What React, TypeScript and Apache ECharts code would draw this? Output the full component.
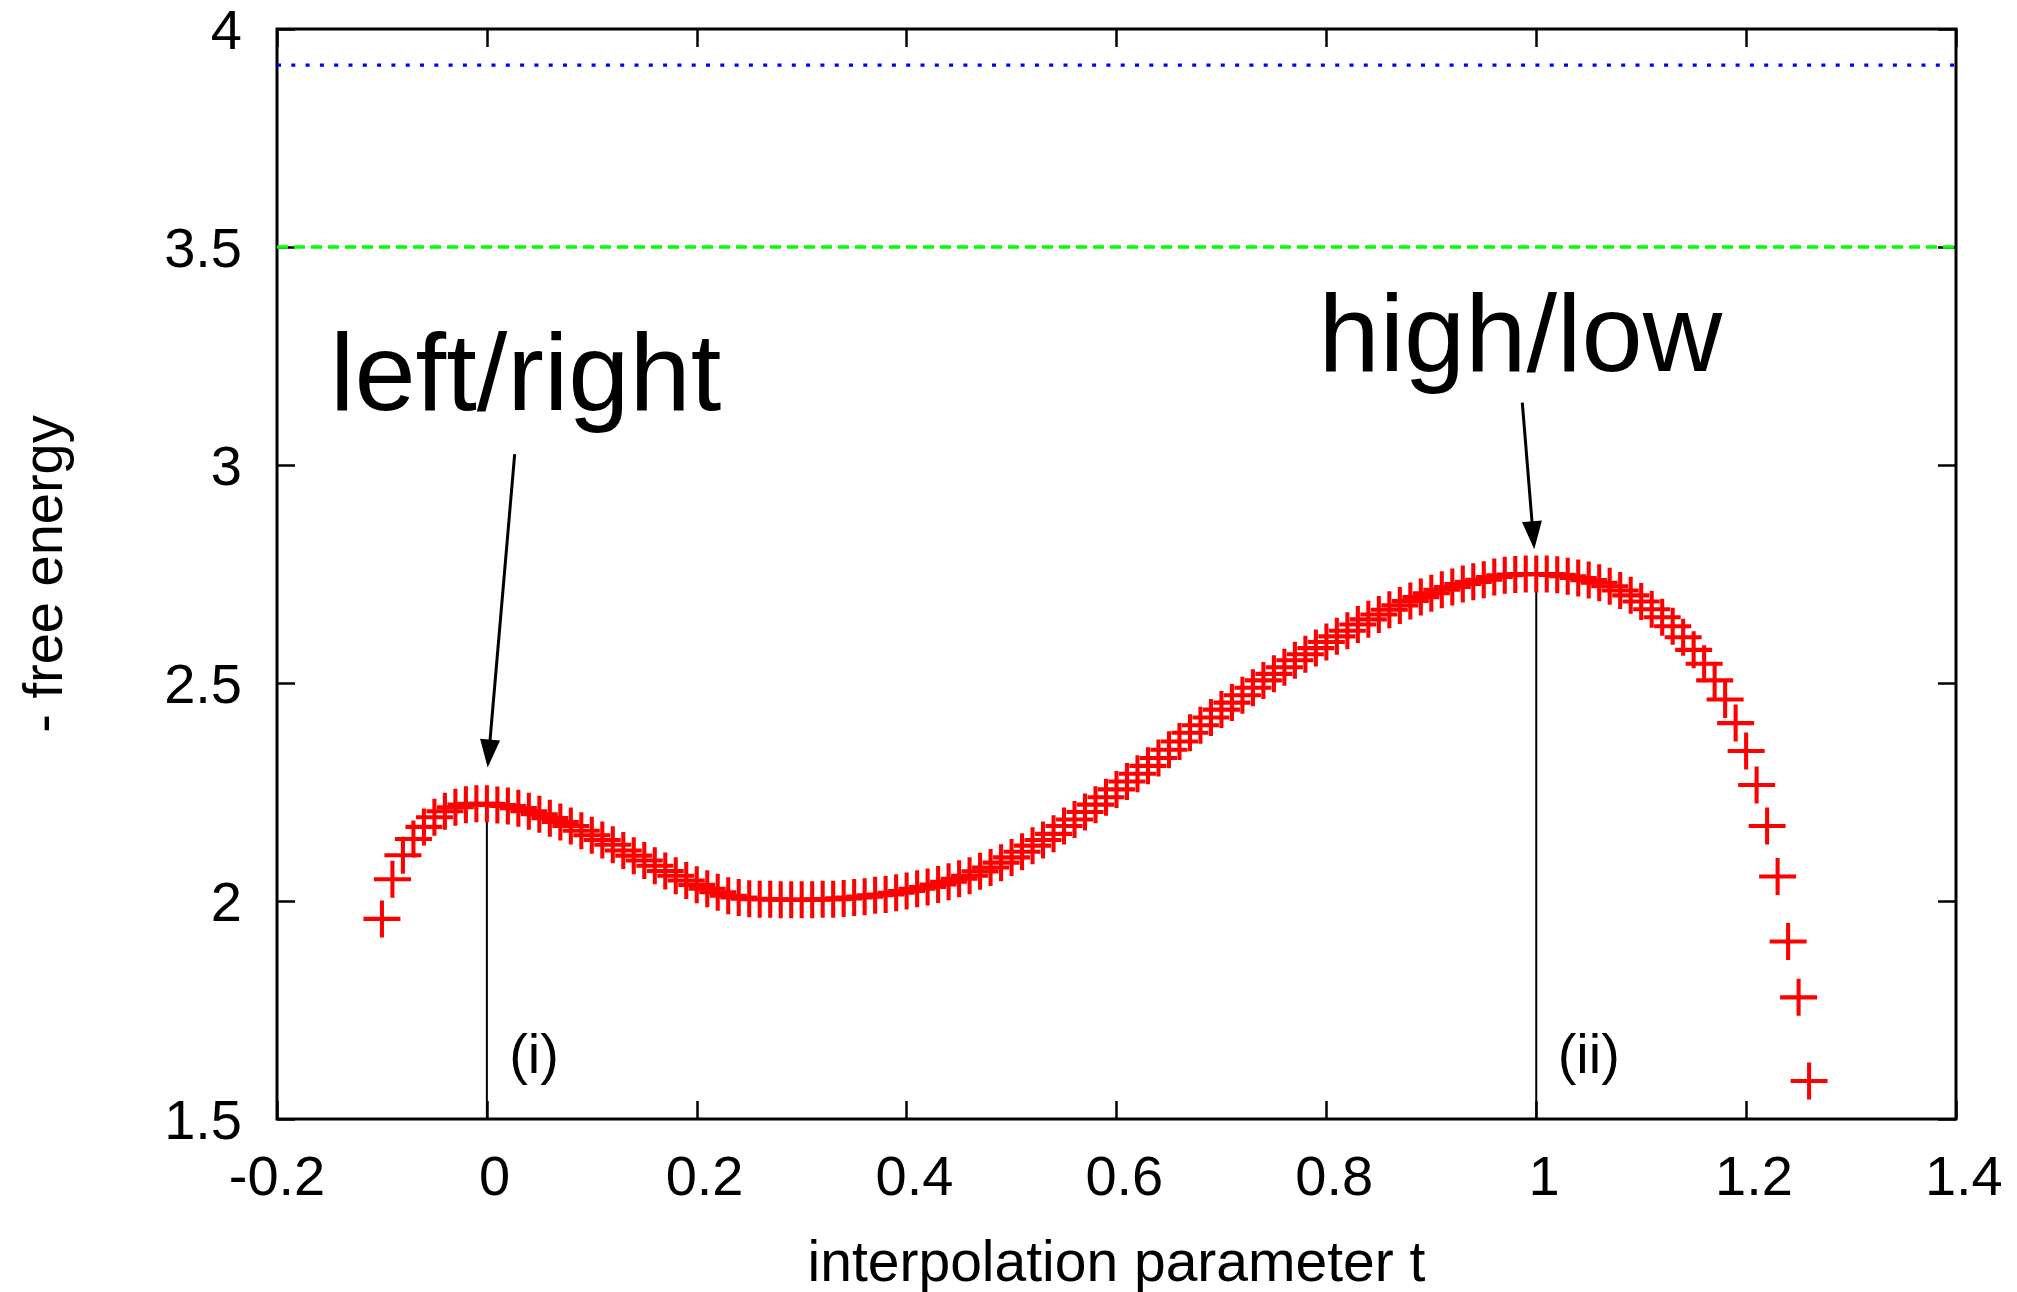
import React, { useEffect, useRef } from "react";
import * as echarts from "echarts";

// interpolation parameter t for every red "+" point
const tValues = [
  -0.1, -0.09, -0.08, -0.07, -0.06, -0.05, -0.04, -0.03, -0.02, -0.01,
  0, 0.01, 0.02, 0.03, 0.04, 0.05, 0.06, 0.07, 0.08, 0.09,
  0.1, 0.11, 0.12, 0.13, 0.14, 0.15, 0.16, 0.17, 0.18, 0.19,
  0.2, 0.21, 0.22, 0.23, 0.24, 0.25, 0.26, 0.27, 0.28, 0.29,
  0.3, 0.31, 0.32, 0.33, 0.34, 0.35, 0.36, 0.37, 0.38, 0.39,
  0.4, 0.41, 0.42, 0.43, 0.44, 0.45, 0.46, 0.47, 0.48, 0.49,
  0.5, 0.51, 0.52, 0.53, 0.54, 0.55, 0.56, 0.57, 0.58, 0.59,
  0.6, 0.61, 0.62, 0.63, 0.64, 0.65, 0.66, 0.67, 0.68, 0.69,
  0.7, 0.71, 0.72, 0.73, 0.74, 0.75, 0.76, 0.77, 0.78, 0.79,
  0.8, 0.81, 0.82, 0.83, 0.84, 0.85, 0.86, 0.87, 0.88, 0.89,
  0.9, 0.91, 0.92, 0.93, 0.94, 0.95, 0.96, 0.97, 0.98, 0.99,
  1.0, 1.01, 1.02, 1.03, 1.04, 1.05, 1.06, 1.07, 1.08, 1.09,
  1.1, 1.11, 1.12, 1.13, 1.14, 1.15, 1.16, 1.17, 1.18, 1.19,
  1.2, 1.21, 1.22, 1.23, 1.24, 1.25, 1.26,
];

// "- free energy" for each t above
const energyValues = [
  1.959, 2.05, 2.105, 2.142, 2.17, 2.192, 2.206, 2.215, 2.221, 2.223,
  2.223, 2.22, 2.218, 2.213, 2.206, 2.199, 2.19, 2.181, 2.172, 2.161,
  2.151, 2.14, 2.129, 2.116, 2.104, 2.093, 2.081, 2.069, 2.058, 2.047,
  2.037, 2.028, 2.02, 2.012, 2.008, 2.005, 2.004, 2.004, 2.003, 2.003,
  2.003, 2.003, 2.004, 2.004, 2.006, 2.008, 2.01, 2.013, 2.015, 2.019,
  2.023, 2.028, 2.032, 2.038, 2.044, 2.051, 2.058, 2.068, 2.077, 2.088,
  2.1, 2.113, 2.127, 2.14, 2.154, 2.172, 2.187, 2.204, 2.221, 2.238,
  2.256, 2.274, 2.292, 2.31, 2.328, 2.347, 2.366, 2.386, 2.403, 2.421,
  2.439, 2.455, 2.472, 2.489, 2.506, 2.521, 2.536, 2.552, 2.566, 2.58,
  2.594, 2.607, 2.62, 2.634, 2.646, 2.657, 2.668, 2.678, 2.688, 2.697,
  2.706, 2.714, 2.72, 2.727, 2.732, 2.737, 2.743, 2.747, 2.749, 2.75,
  2.75, 2.75, 2.748, 2.745, 2.741, 2.736, 2.73, 2.722, 2.712, 2.701,
  2.687, 2.669, 2.651, 2.63, 2.605, 2.576, 2.544, 2.506, 2.462, 2.408,
  2.344, 2.266, 2.172, 2.056, 1.907, 1.779, 1.587,
];

// axis ranges
const xRange = [-0.2, 1.4];
const xStep = 0.2;
const yRange = [1.5, 4];
const yStep = 0.5;

// reference levels
const blueLevel = [3.917];
const greenLevel = [3.5];

// marked configurations (i) and (ii)
const markedT = [0, 1];
const markedLabels = ["(i)", "(ii)"];
const markedLabelPos = [
  [0.045, 1.651],
  [1.05, 1.651],
];

// arrows: [start, end] in data coordinates
const arrowLines = [
  [
    [0.0265, 3.025],
    [0.0019, 2.338],
  ],
  [
    [0.9867, 3.143],
    [0.997, 2.839],
  ],
];

// big annotations
const bigLabels = ["left/right", "high/low"];
const bigLabelPos = [
  [-0.1495, 3.214],
  [0.7925, 3.305],
];

const FONT = "'Liberation Sans', Arial, Helvetica, sans-serif";
const PLUS =
  "path://M8.9,0H11.1V8.9H20V11.1H11.1V20H8.9V11.1H0V8.9H8.9Z";

export default function App() {
  const ref = useRef<HTMLDivElement>(null);

  useEffect(() => {
    if (!ref.current) return;
    const chart = echarts.init(ref.current, null, { renderer: "svg" });

    const points = tValues.map((t, i) => [t, energyValues[i]]);
    const verticalSeries = markedT.map((t) => {
      const idx = tValues.indexOf(t);
      return {
        type: "line",
        data: [
          [t, yRange[0]],
          [t, energyValues[idx]],
        ],
        symbol: "none",
        silent: true,
        lineStyle: { color: "#000", width: 2 },
        z: 1,
      };
    });

    const tickStyle = { color: "#000", width: 2.5 };
    const baseX = {
      type: "value",
      min: xRange[0],
      max: xRange[1],
      interval: xStep,
      axisLine: { show: false, onZero: false },
      splitLine: { show: false },
      axisTick: { show: true, inside: true, length: 18, lineStyle: tickStyle },
    };
    const baseY = {
      type: "value",
      min: yRange[0],
      max: yRange[1],
      interval: yStep,
      axisLine: { show: false, onZero: false },
      splitLine: { show: false },
      axisTick: { show: true, inside: true, length: 18, lineStyle: tickStyle },
    };
    const labelStyle = {
      fontSize: 56,
      lineHeight: 56,
      fontFamily: FONT,
      color: "#000",
    };

    chart.setOption({
      animation: false,
      backgroundColor: "#fff",
      grid: {
        left: 277,
        right: 61,
        top: 29,
        bottom: 173,
        show: true,
        borderColor: "#000",
        borderWidth: 3,
        backgroundColor: "transparent",
      },
      xAxis: [
        {
          ...baseX,
          position: "bottom",
          axisLabel: {
            ...labelStyle,
            margin: 28,
            showMinLabel: true,
            showMaxLabel: true,
            formatter: (v: number) => {
              const s = String(Math.round(v * 10) / 10);
              return v >= 0 ? "{p|" + s + "}" : s;
            },
            rich: {
              p: {
                fontSize: 56,
                lineHeight: 56,
                fontFamily: FONT,
                color: "#000",
                padding: [0, 0, 0, 15.6],
              },
            },
          },
        },
        { ...baseX, position: "top", axisLabel: { show: false } },
      ],
      yAxis: [
        {
          ...baseY,
          position: "left",
          axisLabel: { ...labelStyle, margin: 35, showMinLabel: true, showMaxLabel: true },
        },
        { ...baseY, position: "right", axisLabel: { show: false } },
      ],
      series: [
        ...verticalSeries,
        {
          type: "line",
          data: [
            [xRange[0], blueLevel[0]],
            [xRange[1], blueLevel[0]],
          ],
          symbol: "none",
          silent: true,
          lineStyle: { color: "#0000ff", width: 3.3, type: [4, 10.3] },
          z: 2,
        },
        {
          type: "line",
          data: [
            [xRange[0], greenLevel[0]],
            [xRange[1], greenLevel[0]],
          ],
          symbol: "none",
          silent: true,
          lineStyle: { color: "#00ff00", width: 3.5, type: [11, 6] },
          z: 2,
        },
        {
          type: "scatter",
          data: points,
          symbol: PLUS,
          symbolSize: 37,
          silent: true,
          itemStyle: { color: "#ff0000", opacity: 1 },
          z: 3,
        },
        {
          type: "line",
          data: [],
          silent: true,
          markLine: {
            silent: true,
            symbol: ["none", "triangle"],
            symbolSize: [20, 28],
            label: { show: false },
            lineStyle: { color: "#000", width: 3, type: "solid" },
            emphasis: { disabled: true },
            data: arrowLines.map((pair) => [
              { coord: pair[0] },
              { coord: pair[1] },
            ]),
          },
          z: 4,
        },
      ],
    });

    const toPx = (p: number[]) =>
      chart.convertToPixel({ xAxisIndex: 0, yAxisIndex: 0 }, p) as number[];

    const graphics: any[] = [];
    bigLabels.forEach((txt, i) => {
      const [x, y] = toPx(bigLabelPos[i]);
      graphics.push({
        type: "text",
        x,
        y,
        silent: true,
        style: {
          text: txt,
          fontSize: 110,
          fontFamily: FONT,
          fill: "#000",
          align: "left",
          verticalAlign: "middle",
        },
        z: 10,
      });
    });
    markedLabels.forEach((txt, i) => {
      const [x, y] = toPx(markedLabelPos[i]);
      graphics.push({
        type: "text",
        x,
        y,
        silent: true,
        style: {
          text: txt,
          fontSize: 56,
          fontFamily: FONT,
          fill: "#000",
          align: "center",
          verticalAlign: "middle",
        },
        z: 10,
      });
    });
    const [cx] = toPx([(xRange[0] + xRange[1]) / 2, yRange[0]]);
    const [, cy] = toPx([xRange[0], (yRange[0] + yRange[1]) / 2]);
    graphics.push({
      type: "text",
      x: cx,
      y: 1260.6,
      silent: true,
      style: {
        text: "interpolation parameter t",
        fontSize: 57,
        fontFamily: FONT,
        fill: "#000",
        align: "center",
        verticalAlign: "middle",
      },
    });
    graphics.push({
      type: "text",
      x: 42.6,
      y: cy,
      rotation: Math.PI / 2,
      silent: true,
      style: {
        text: "- free energy",
        fontSize: 56,
        fontFamily: FONT,
        fill: "#000",
        align: "center",
        verticalAlign: "middle",
      },
    });
    chart.setOption({ graphic: graphics });

    return () => chart.dispose();
  }, []);

  return (
    <div
      ref={ref}
      style={{ position: "absolute", left: 0, top: 0, width: 2017, height: 1292 }}
    />
  );
}
